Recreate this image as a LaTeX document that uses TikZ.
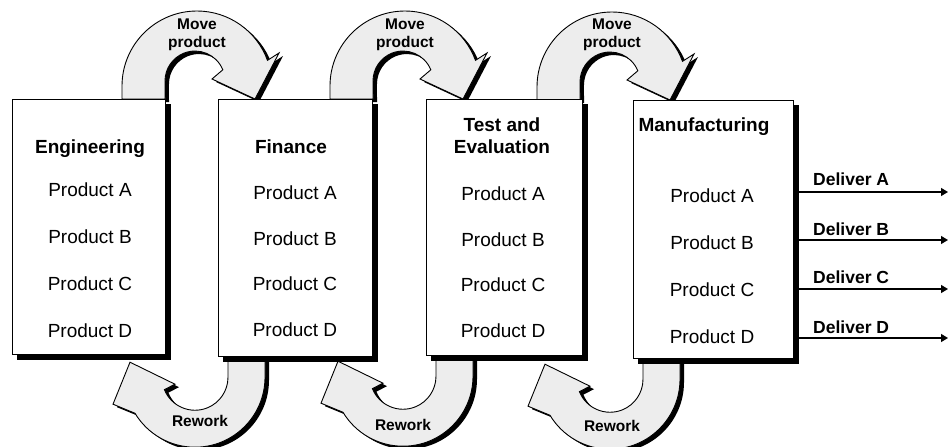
\documentclass[tikz,border=0pt]{standalone}
\usepackage{fontspec}
\setmainfont{Liberation Sans}
\usetikzlibrary{arrows.meta}
\pgfdeclarelayer{back}
\pgfsetlayers{back,main}

\tikzset{
  % curved "move product" band, origin at the receiving box's top-left corner
  moveband/.pic={
    \fill[black, shift={(4,3)}]
      (-96,0) -- (-96,-13) arc[start angle=180,end angle=340,radius=75]
      -- (61,-46) -- (37,0) -- (-6,-20) -- (4.8,-29.2)
      arc[start angle=338,end angle=180,radius=30] -- (-53,0) -- cycle;
    \path[band]
      (-96,0) -- (-96,-13) arc[start angle=180,end angle=340,radius=75]
      -- (61,-46) -- (37,0) -- (-6,-20) -- (4.8,-29.2)
      arc[start angle=338,end angle=180,radius=30] -- (-53,0) -- cycle;
  },
  % curved "rework" band, origin at the sending box's bottom-left corner
  reworkband/.pic={
    \fill[black, shift={(4,3)}]
      (47,0) -- (47,20) arc[start angle=0,end angle=149,radius=70]
      -- (-105,47) -- (-88,5) -- (-43,27) -- (-53.6,32.4)
      arc[start angle=158,end angle=0,radius=33] -- (10,0) -- cycle;
    \path[band]
      (47,0) -- (47,20) arc[start angle=0,end angle=149,radius=70]
      -- (-105,47) -- (-88,5) -- (-43,27) -- (-53.6,32.4)
      arc[start angle=158,end angle=0,radius=33] -- (10,0) -- cycle;
  }
}

\begin{document}
\begin{tikzpicture}[x=1pt,y=-1pt,
  box/.style={draw=black, line width=1.2pt, fill=white, rectangle, inner sep=0pt, anchor=north west},
  title/.style={font=\fontsize{19}{22}\selectfont\bfseries, anchor=base},
  item/.style={font=\fontsize{19}{22}\selectfont, anchor=base},
  lbl/.style={font=\fontsize{17.5}{20}\selectfont\bfseries, anchor=base west, inner sep=0pt},
  tag/.style={font=\fontsize{15.5}{18}\selectfont\bfseries, anchor=base},
  band/.style={draw=black, line width=0.9pt, fill=black!7},
  flow/.style={line width=1.3pt, -{Triangle[length=7pt,width=8pt]}}
]
\useasboundingbox (0,0) rectangle (948,447);

% departments
\node[box, minimum width=153pt, minimum height=255pt] (eng) at (12,99) {};
\node[box, minimum width=154pt, minimum height=257pt] (fin) at (218,99) {};
\node[box, minimum width=156pt, minimum height=256pt] (tst) at (426,99) {};
\node[box, minimum width=160pt, minimum height=258pt] (man) at (633,100) {};

\node[title] (engT) at (90,153) {Engineering};
\node[title] (finT) at (291,153) {Finance};
\node[title] (tstT1) at (502,131) {Test and};
\node[title] (tstT2) at (502,153) {Evaluation};
\node[title] (manT) at (704,131) {Manufacturing};

\foreach \p/\y in {A/196,B/243,C/290,D/337}
  \node[item] (eng\p) at (90,\y) {Product \p};
\foreach \p/\y in {A/199,B/245,C/290,D/336}
  \node[item] (fin\p) at (295,\y) {Product \p};
\foreach \p/\y in {A/200,B/246,C/291,D/337}
  \node[item] (tst\p) at (503,\y) {Product \p};
\foreach \p/\y in {A/202,B/249,C/296,D/343}
  \node[item] (man\p) at (712,\y) {Product \p};

% deliveries
\foreach \p/\y/\ly in {A/192/185,B/240/235,C/289/283,D/338/333}{
  \coordinate (out\p) at (948,\y);
  \draw[flow] (man.east |- out\p) -- (out\p);
  \node[lbl] (del\p) at (813,\ly) {Deliver \p};
}

% flow bands and drop shadows
\begin{pgfonlayer}{back}
  \pic at (fin.north west) {moveband};
  \pic at (tst.north west) {moveband};
  \pic at (man.north west) {moveband};
  \pic at (fin.south west) {reworkband};
  \pic at (tst.south west) {reworkband};
  \pic at (man.south west) {reworkband};
  \foreach \b in {eng,fin,tst,man}
    \fill[black] ([shift={(5,5)}]\b.north west) rectangle ([shift={(5,5)}]\b.south east);
\end{pgfonlayer}

\node[tag] (mv1a) at (197,29) {Move};
\node[tag] (mv1b) at (197,47) {product};
\node[tag] (mv2a) at (405,29) {Move};
\node[tag] (mv2b) at (405,47) {product};
\node[tag] (mv3a) at (612,29) {Move};
\node[tag] (mv3b) at (612,47) {product};

\node[tag] (rw1) at (200,426) {Rework};
\node[tag] (rw2) at (403,430) {Rework};
\node[tag] (rw3) at (612,431) {Rework};
\end{tikzpicture}
\end{document}
